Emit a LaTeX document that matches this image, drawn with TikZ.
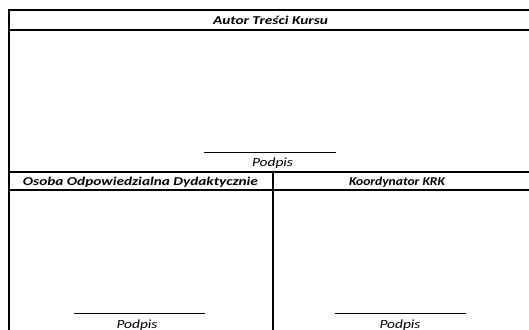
\documentclass[tikz,border=0pt]{standalone}
\usepackage{graphicx}
\usepackage{fontspec}
\setmainfont{Carlito}
\newcommand{\wfit}[2]{\resizebox{#1}{\height}{#2}}
\begin{document}
\begin{tikzpicture}[x=1pt,y=-1pt,
  frame/.style={line width=2pt},
  sigline/.style={line width=1pt},
  head/.style={font=\fontsize{12}{14}\selectfont\bfseries\itshape, inner sep=0pt, anchor=base},
  sig/.style={font=\fontsize{12.5}{14}\selectfont\itshape, inner sep=0pt, anchor=base}]
\useasboundingbox (0,0) rectangle (529,329);
% frame
\draw[frame] (530,10.5) -- (9,10.5) -- (9,330);
\draw[frame] (9,30.5) -- (530,30.5);
\draw[frame] (9,171.5) -- (530,171.5);
\draw[frame] (9,189.5) -- (530,189.5);
\draw[frame] (273,171.5) -- (273,330);
% headers
\node[head] (h1) at (270.5,24.5) {\wfit{115pt}{Autor Treści Kursu}};
\node[head] (h2) at (140.5,185.5) {\wfit{235pt}{Osoba Odpowiedzialna Dydaktycznie}};
\node[head] (h3) at (397,185.5) {\wfit{96pt}{Koordynator KRK}};
% signatures
\coordinate (s1a) at (204,152); \coordinate (s1b) at (336,152);
\draw[sigline] (s1a) -- (s1b);
\node[sig] (p1) at (272.5,166.5) {\wfit{41pt}{Podpis}};
\coordinate (s2a) at (74,313); \coordinate (s2b) at (205,313);
\draw[sigline] (s2a) -- (s2b);
\node[sig] (p2) at (137,328.5) {\wfit{41pt}{Podpis}};
\coordinate (s3a) at (335,313); \coordinate (s3b) at (466,313);
\draw[sigline] (s3a) -- (s3b);
\node[sig] (p3) at (400,328.5) {\wfit{41pt}{Podpis}};
\end{tikzpicture}
\end{document}
